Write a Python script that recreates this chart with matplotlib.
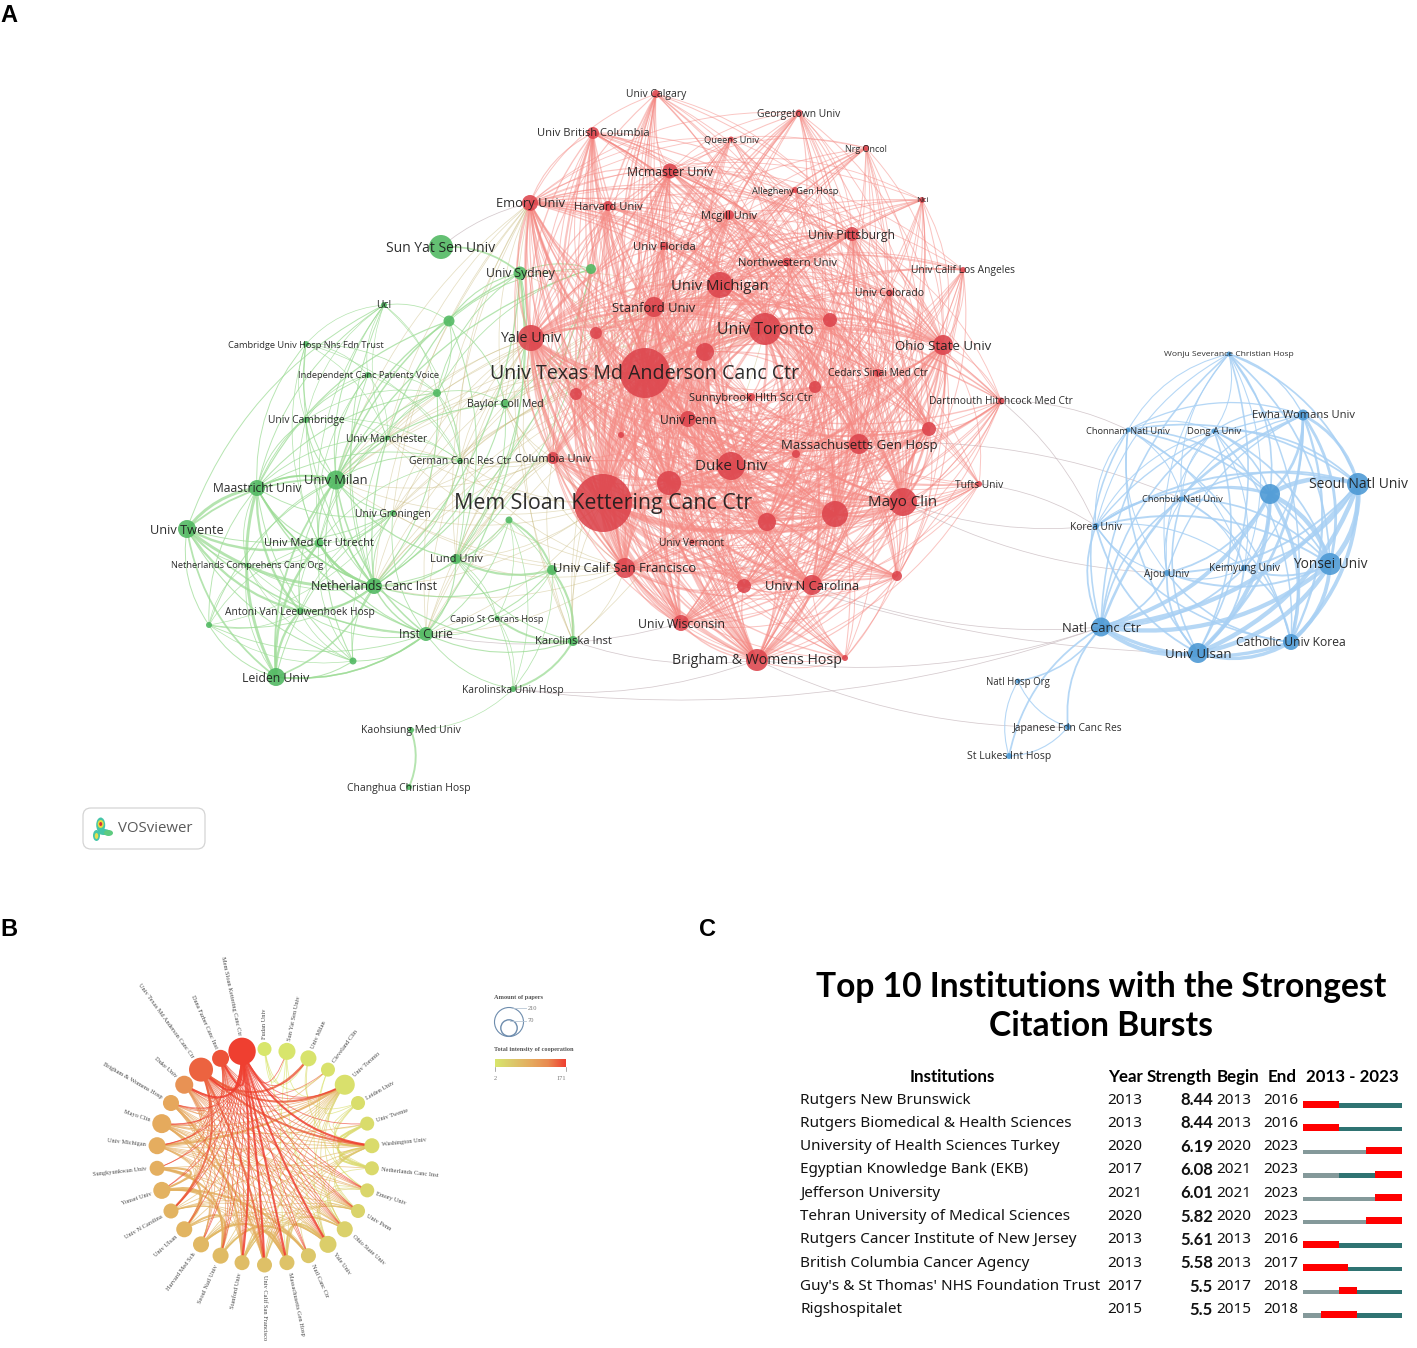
import numpy as np
import matplotlib
matplotlib.use("Agg")
import matplotlib.pyplot as plt
from matplotlib.collections import PathCollection
from matplotlib.colors import LinearSegmentedColormap, Normalize, to_rgba
from matplotlib.patches import Circle, Ellipse, FancyBboxPatch
from matplotlib.path import Path

W, H = 1417, 1348

# ---- panel A, VOSviewer map (node x/y, in image pixels)
red_names = ["Univ Calgary", "Georgetown Univ", "Univ British Columbia", "Queens Univ", "Nrg Oncol",
             "Mcmaster Univ", "Allegheny Gen Hosp", "Emory Univ", "Harvard Univ", "Nci", "Mcgill Univ",
             "Univ Pittsburgh", "Univ Florida", "Northwestern Univ", "Univ Calif Los Angeles", "Univ Michigan",
             "Univ Colorado", "Stanford Univ", "", "Univ Toronto", "Yale Univ", "", "Ohio State Univ", "",
             "Cedars Sinai Med Ctr", "Univ Texas Md Anderson Canc Ctr", "", "Sunnybrook Hlth Sci Ctr",
             "Dartmouth Hitchcock Med Ctr", "", "Univ Penn", "", "", "Massachusetts Gen Hosp", "Columbia Univ",
             "", "Duke Univ", "", "Tufts Univ", "Mayo Clin", "Mem Sloan Kettering Canc Ctr", "", "",
             "Univ Vermont", "Univ Calif San Francisco", "Univ N Carolina", "", "", "Univ Wisconsin",
             "Brigham & Womens Hosp", ""]
red_x = [656, 799, 593, 731, 866, 670, 795, 530, 608, 922, 729, 852, 664, 787, 963, 720, 890, 654, 830, 765, 531,
         596, 943, 705, 878, 645, 815, 751, 1001, 576, 688, 929, 621, 859, 553, 796, 731, 669, 979, 903, 603, 835,
         767, 692, 625, 812, 744, 897, 681, 757, 845]
red_y = [94, 113, 133, 139, 148, 171, 190, 203, 206, 200, 215, 234, 246, 262, 270, 285, 293, 307, 320, 329, 338,
         333, 345, 352, 373, 373, 387, 397, 401, 394, 419, 429, 435, 444, 458, 454, 466, 483, 484, 502, 503, 514,
         522, 542, 568, 585, 586, 576, 623, 660, 658]
red_r = [4, 3.5, 6, 2.5, 3, 7.5, 3, 8, 5, 3, 5, 7, 4, 4.5, 3, 13, 3.5, 10, 7, 16, 13, 6, 10, 9, 4, 25, 6, 4, 3.5,
         6, 8, 7, 3, 10, 6, 4, 14, 12, 3, 14, 29, 13, 9, 2.5, 10, 10, 7, 5, 8, 11, 3]
red_fs = [7.5, 7.4, 8, 6.7, 6.5, 8.8, 6.7, 9.3, 8, 6, 7.9, 8.7, 8.1, 8, 7.4, 10.7, 7.5, 9.4, 6, 11.4, 10.3, 6, 9.5,
          6, 7.4, 14.1, 6, 8, 7.4, 6, 8.6, 6, 6, 9.5, 8, 6, 10.9, 6, 7.4, 10.9, 15.4, 6, 6, 7.3, 9.4, 9.4, 6, 6,
          8.8, 10.2, 6]

green_names = ["Sun Yat Sen Univ", "Univ Sydney", "", "Ucl", "", "Cambridge Univ Hosp Nhs Fdn Trust",
               "Independent Canc Patients Voice", "", "Baylor Coll Med", "Univ Cambridge", "Univ Manchester",
               "German Canc Res Ctr", "Maastricht Univ", "Univ Milan", "Univ Groningen", "", "Univ Twente",
               "Univ Med Ctr Utrecht", "Netherlands Comprehens Canc Org", "Lund Univ", "", "Netherlands Canc Inst",
               "Capio St Gorans Hosp", "Antoni Van Leeuwenhoek Hosp", "", "", "Inst Curie", "Karolinska Inst",
               "Leiden Univ", "Karolinska Univ Hosp", "Kaohsiung Med Univ", "Changhua Christian Hosp"]
green_x = [441, 520, 591, 384, 449, 306, 368, 437, 505, 306, 387, 460, 257, 336, 393, 509, 187, 319, 247, 456, 552,
           374, 497, 300, 209, 353, 426, 573, 276, 513, 411, 409]
green_y = [247, 273, 269, 305, 321, 344, 375, 393, 404, 420, 438, 461, 488, 480, 513, 520, 529, 543, 565, 559, 570,
           586, 618, 611, 625, 661, 634, 641, 677, 689, 730, 787]
green_r = [12, 6.5, 5, 3, 5.5, 3, 3, 4, 4.5, 3, 2.5, 3, 8, 9.5, 3, 3.5, 9, 4.5, 2, 5, 5, 8, 2.5, 3.5, 3, 3.5, 7, 5,
           9, 3, 3, 3]
green_fs = [10, 8.7, 6, 7.5, 6, 6.7, 6.7, 6, 7.6, 7.4, 7.4, 7.4, 8.7, 9.3, 7.5, 6, 9.2, 8, 6.7, 8, 6, 8.8, 6.7, 7.4,
            6, 6, 8.7, 8, 8.8, 7.4, 7.5, 7.5]

blue_names = ["Wonju Severance Christian Hosp", "Ewha Womans Univ", "Chonnam Natl Univ", "Dong A Univ",
              "Seoul Natl Univ", "", "Chonbuk Natl Univ", "Korea Univ", "Yonsei Univ", "Ajou Univ", "Keimyung Univ",
              "Natl Canc Ctr", "Catholic Univ Korea", "Univ Ulsan", "Natl Hosp Org", "Japanese Fdn Canc Res",
              "St Lukes Int Hosp"]
blue_x = [1229, 1303, 1128, 1214, 1358, 1270, 1182, 1096, 1330, 1167, 1244, 1101, 1291, 1198, 1018, 1068, 1009]
blue_y = [354, 415, 430, 431, 484, 494, 499, 526, 564, 573, 568, 627, 642, 653, 681, 727, 756]
blue_r = [2.5, 5.5, 2.5, 2.5, 11, 10, 2.5, 3, 11, 3, 3, 9.5, 8, 10, 2.5, 3, 3]
blue_fs = [6.1, 8, 6.7, 6.8, 10, 6, 6.7, 7.3, 9.9, 7.3, 7.3, 9.3, 8.7, 9.5, 6.9, 7.4, 7.5]

green_groups = [[12, 13, 14, 16, 17, 18, 21, 23, 24, 25, 26, 28],
                [19, 20, 22, 26, 27, 29, 15],
                [3, 5, 6, 7, 9, 10, 11, 13, 21, 12, 17],
                [1, 2, 4, 8, 7, 13, 21, 19]]
green_links = [(30, 31), (29, 30), (3, 4), (0, 1), (4, 12), (3, 16), (1, 26), (15, 21), (20, 21), (27, 21), (28, 26)]
green_strong = [(16, 17), (16, 21), (16, 12), (17, 21), (28, 23), (28, 17), (28, 12), (19, 20), (27, 29), (15, 20),
                (22, 27), (12, 23), (23, 21), (30, 31), (16, 23), (20, 27)]
blue_links = [(14, 15), (15, 16), (11, 15), (11, 16), (14, 16), (11, 14)]
cross_links = [("Sun Yat Sen Univ", "Emory Univ"), ("Karolinska Inst", "Brigham & Womens Hosp"),
               ("Karolinska Univ Hosp", "Brigham & Womens Hosp"), ("Karolinska Univ Hosp", "Natl Canc Ctr"),
               ("Inst Curie", "Univ Wisconsin"), ("Tufts Univ", "Korea Univ"), ("Dartmouth Hitchcock Med Ctr", "Korea Univ"),
               ("Dartmouth Hitchcock Med Ctr", "Chonnam Natl Univ"), ("Mayo Clin", "Korea Univ"),
               ("Mayo Clin", "Ajou Univ"), ("Brigham & Womens Hosp", "Natl Canc Ctr"),
               ("Brigham & Womens Hosp", "Japanese Fdn Canc Res"), ("Univ Ulsan", "Mem Sloan Kettering Canc Ctr"),
               ("Univ N Carolina", "Natl Canc Ctr"), ("Massachusetts Gen Hosp", "Chonbuk Natl Univ")]
cross_left = ["Univ Sydney", "Baylor Coll Med", "German Canc Res Ctr", "Lund Univ", "Univ Milan", "Inst Curie",
              "Netherlands Canc Inst", "Univ Manchester", "Univ Groningen", "Karolinska Inst"]
cross_right = ["Mem Sloan Kettering Canc Ctr", "Univ Texas Md Anderson Canc Ctr", "Yale Univ", "Emory Univ",
               "Stanford Univ", "Univ Calif San Francisco", "Columbia Univ", "Univ Toronto"]

# ---- panel B, circular network, clockwise from the top
circle_names = ["Fudan Univ", "Sun Yat Sen Univ", "Univ Milan", "Cleveland Clin", "Univ Toronto", "Leiden Univ",
                "Univ Twente", "Washington Univ", "Netherlands Canc Inst", "Emory Univ", "Univ Penn", "Ohio State Univ",
                "Yale Univ", "Natl Canc Ctr", "Massachusetts Gen Hosp", "Univ Calif San Francisco", "Stanford Univ",
                "Seoul Natl Univ", "Harvard Med Sch", "Univ Ulsan", "Univ N Carolina", "Yonsei Univ",
                "Sungkyunkwan Univ", "Univ Michigan", "Mayo Clin", "Brigham & Womens Hosp", "Duke Univ",
                "Univ Texas Md Anderson Canc Ctr", "Dana Farber Canc Inst", "Mem Sloan Kettering Canc Ctr"]
circle_papers = [55, 81, 72, 55, 112, 55, 55, 63, 55, 55, 55, 72, 81, 63, 63, 63, 63, 72, 72, 72, 63, 81, 63, 81,
                 101, 72, 91, 161, 81, 210]
circle_intensity = [2, 4, 6, 8, 10, 14, 16, 18, 20, 24, 28, 32, 36, 46, 52, 56, 60, 64, 68, 72, 74, 76, 80, 84, 88,
                    92, 118, 150, 160, 171]
circle_links = {29: [1, 2, 4, 6, 7, 9, 10, 11, 12, 13, 14, 15, 16, 17, 18, 19, 20, 21, 22, 23, 24, 25, 26, 27, 28],
                27: [2, 3, 4, 7, 9, 10, 11, 12, 13, 14, 15, 16, 17, 19, 20, 21, 22, 23, 24, 25, 26, 28],
                28: [4, 7, 9, 10, 11, 12, 13, 14, 15, 16, 17, 18, 20, 23, 24, 25, 26],
                26: [4, 7, 9, 10, 11, 12, 14, 15, 16, 17, 18, 20, 23, 24, 25],
                25: [4, 7, 10, 11, 12, 14, 15, 16, 18, 20, 23, 24],
                24: [4, 6, 7, 9, 10, 11, 12, 14, 15, 16, 18, 20, 23],
                23: [3, 4, 7, 9, 10, 11, 12, 14, 15, 16, 18, 20],
                22: [13, 17, 19, 21, 8, 14], 21: [13, 17, 19, 14, 4], 20: [4, 7, 10, 11, 12, 14, 15, 16],
                19: [13, 17, 12, 4], 18: [4, 7, 10, 11, 12, 14, 15, 16, 17], 17: [13, 15, 12, 4],
                16: [4, 7, 10, 11, 12, 14, 15], 15: [4, 7, 10, 11, 12, 14], 14: [4, 7, 10, 11, 12],
                13: [15, 12], 12: [4, 7, 9, 10, 11], 11: [4, 7, 9, 10], 10: [4, 7, 9], 8: [5, 6, 7, 2, 10],
                7: [4, 5, 6], 6: [5], 5: [2, 4, 9], 3: [0, 9, 11], 1: [0, 4, 12, 14], 0: [2, 11]}
circle_strong = [(22, 21), (21, 19), (22, 19), (19, 17), (21, 17), (22, 17), (21, 13), (17, 13), (29, 12), (29, 14),
                 (29, 16), (29, 15), (29, 7), (29, 28), (29, 27), (29, 26), (27, 15), (27, 2), (27, 4), (27, 7),
                 (27, 20), (23, 4), (28, 27), (26, 28), (25, 28), (25, 16), (24, 15), (18, 14), (16, 14), (14, 12),
                 (8, 7), (8, 6), (7, 6)]

# ---- panel C, citation bursts
burst_names = ["Rutgers New Brunswick", "Rutgers Biomedical & Health Sciences", "University of Health Sciences Turkey",
               "Egyptian Knowledge Bank (EKB)", "Jefferson University", "Tehran University of Medical Sciences",
               "Rutgers Cancer Institute of New Jersey", "British Columbia Cancer Agency",
               "Guy's & St Thomas' NHS Foundation Trust", "Rigshospitalet"]
burst_year = [2013, 2013, 2020, 2017, 2021, 2020, 2013, 2013, 2017, 2015]
burst_strength = ["8.44", "8.44", "6.19", "6.08", "6.01", "5.82", "5.61", "5.58", "5.5", "5.5"]
burst_begin = [2013, 2013, 2020, 2021, 2021, 2020, 2013, 2013, 2017, 2015]
burst_end = [2016, 2016, 2023, 2023, 2023, 2023, 2016, 2017, 2018, 2018]
first_year, last_year = 2013, 2023

plt.rcParams['font.family'] = ['Open Sans', 'DejaVu Sans']
fig = plt.figure(figsize=(W / 100, H / 100), dpi=100, facecolor='white')
ax = fig.add_axes([0, 0, 1, 1])
ax.set_xlim(0, W)
ax.set_ylim(H, 0)
ax.axis('off')


def px_axes(x0, y0, x1, y1):
    # small extra axes placed by image pixels
    a = fig.add_axes([x0 / W, 1 - y1 / H, (x1 - x0) / W, (y1 - y0) / H])
    a.axis('off')
    return a


def arc(p0, p1, center, bend):
    # curved link, bulging away from the cluster center
    p0, p1 = np.asarray(p0, float), np.asarray(p1, float)
    mid = (p0 + p1) / 2
    d = p1 - p0
    n = np.array([-d[1], d[0]])
    if np.dot(n, mid - center) < 0:
        n = -n
    return Path([p0, mid + n * bend, p1], [Path.MOVETO, Path.CURVE3, Path.CURVE3])


def add_links(paths, colors, widths, zorder):
    pc = PathCollection(paths, facecolors='none', edgecolors=colors, linewidths=widths, zorder=zorder)
    ax.add_collection(pc)


def draw_cluster(xs, ys, rs, pairs, color, alpha, k, base, bend=0.2, strong=()):
    center = np.array([np.mean(xs), np.mean(ys)])
    paths, widths = [], []
    for i, j in pairs:
        paths.append(arc((xs[i], ys[i]), (xs[j], ys[j]), center, bend))
        w = base + rs[i] * rs[j] / k
        if (i, j) in strong or (j, i) in strong:
            w += 0.9
        widths.append(w)
    add_links(paths, [to_rgba(color, alpha)] * len(paths), widths, 1)


def clique(group):
    return [(a, b) for n, a in enumerate(group) for b in group[n + 1:]]


all_pos = {}
for ns, xs, ys in [(red_names, red_x, red_y), (green_names, green_x, green_y), (blue_names, blue_x, blue_y)]:
    for n, x, y in zip(ns, xs, ys):
        if n:
            all_pos[n] = (x, y)

center_a = np.array([700, 420])
left_pairs = [(a, b) for a in cross_left for b in cross_right]
add_links([arc(all_pos[a], all_pos[b], center_a, 0.16) for a, b in left_pairs],
          [(0.78, 0.72, 0.48, 0.45)] * len(left_pairs), [0.55] * len(left_pairs), 1)
add_links([arc(all_pos[a], all_pos[b], center_a, 0.12) for a, b in cross_links],
          [(0.78, 0.72, 0.74, 0.75)] * len(cross_links), [0.55] * len(cross_links), 1)

green_pairs = set()
for g in green_groups:
    green_pairs.update(clique(g))
green_pairs.update(green_links)
draw_cluster(green_x, green_y, green_r, sorted(green_pairs), '#9ddc96', 0.75, 90, 0.4, strong=green_strong)

# red cluster: the small ones only tie to bigger nodes
red_pairs = [(i, j) for i in range(len(red_x)) for j in range(i + 1, len(red_x)) if red_r[i] + red_r[j] >= 10.5]
draw_cluster(red_x, red_y, red_r, red_pairs, '#f58a84', 0.5, 170, 0.5)

blue_pairs = clique(list(range(14))) + blue_links
draw_cluster(blue_x, blue_y, blue_r, blue_pairs, '#a8d0f4', 0.85, 42, 0.6, bend=0.22)

for xs, ys, rs, ns, fs, col in [(red_x, red_y, red_r, red_names, red_fs, '#dc444c'),
                                (green_x, green_y, green_r, green_names, green_fs, '#4fb860'),
                                (blue_x, blue_y, blue_r, blue_names, blue_fs, '#4a98d4')]:
    ax.scatter(xs, ys, s=(2 * np.array(rs) * 0.72) ** 2, color=col, alpha=0.88, linewidths=0, zorder=3)
    for n, x, y, f in zip(ns, xs, ys, fs):
        if n:
            ax.text(x, y + 1, n, fontsize=f, color='#1c1c1c', alpha=0.92, ha='center', va='center', zorder=4)

# logo box
ax.add_patch(FancyBboxPatch((83, 808), 122, 41, boxstyle='round,pad=0,rounding_size=8', fc='white', ec='#d4d4d4',
                            lw=0.9, zorder=2))
for (x, y, w, h, c) in [(100.7, 825, 9, 15, '#46c6a8'), (96.5, 835.5, 7, 11, '#46c6a8'), (104, 832, 12, 6, '#46c6a8'),
                        (108.5, 833, 9, 6, '#5ecb80'), (100.7, 824, 6, 8, '#e6dc3f'), (96.5, 836, 3.5, 6, '#e6e04f'),
                        (100.7, 824, 3, 4, '#d9333a')]:
    ax.add_patch(Ellipse((x, y), w, h, fc=c, ec='none', zorder=3))
ax.text(155, 829, 'VOSviewer', fontsize=10.8, color='#5a5a5a', ha='center', va='center', zorder=3)

# panel letters
for letter, x, y in [('A', 0, 15), ('B', 0, 930), ('C', 699, 930)]:
    ax.text(x, y, letter, fontsize=17, fontweight='bold', family='Liberation Sans', color='black', ha='left', va='center')

# ---- panel B
cx, cy, big_r = 264.5, 1157, 108
cmap = LinearSegmentedColormap.from_list('burst', ['#d8e66c', '#dcc86a', '#e5ab5e', '#e98a50', '#ef3f30'])
norm = Normalize(2, 171)
theta = np.radians(np.arange(len(circle_names)) * 360 / len(circle_names))
nx = cx + big_r * np.sin(theta)
ny = cy - big_r * np.cos(theta)
nr = 13.7 * np.sqrt(np.array(circle_papers) / 210)

paths, cols, widths = [], [], []
for src in sorted(circle_links, key=lambda s: circle_intensity[s]):
    for dst in circle_links[src]:
        mid = np.array([(nx[src] + nx[dst]) / 2, (ny[src] + ny[dst]) / 2])
        ctrl = mid + (np.array([cx, cy]) - mid) * 0.6
        paths.append(Path([(nx[src], ny[src]), ctrl, (nx[dst], ny[dst])], [Path.MOVETO, Path.CURVE3, Path.CURVE3]))
        strong = (src, dst) in circle_strong
        cols.append(to_rgba(cmap(norm(circle_intensity[src])), 0.85 if strong else 0.65))
        widths.append(1.5 if strong else 0.6)
add_links(paths, cols, widths, 1)
ax.scatter(nx, ny, s=(2 * nr * 0.72) ** 2, color=cmap(norm(circle_intensity)), linewidths=0, zorder=3)
for i, n in enumerate(circle_names):
    deg = np.degrees(theta[i])
    rr = big_r + nr[i] + 2.5
    tx, ty = cx + rr * np.sin(theta[i]), cy - rr * np.cos(theta[i])
    right = deg <= 180
    ax.text(tx, ty, n, family=['Liberation Serif'], fontsize=4.6, color='#4a4a4a',
            rotation=(90 - deg) if right else (270 - deg),
            rotation_mode='anchor', ha='left' if right else 'right', va='center', zorder=4)

# legend of panel B
ax.text(494, 998, 'Amount of papers', family='Liberation Serif', fontsize=4.6, fontweight='bold', color='#555555', va='center')
ax.add_patch(Circle((509, 1022), 14.5, fc='none', ec='#6d8cad', lw=0.8))
ax.add_patch(Circle((509, 1028), 8.2, fc='none', ec='#6d8cad', lw=1.0))
ax.plot([513, 526], [1007.5, 1007.5], color='#b8c6d4', lw=0.6)
ax.plot([510, 526], [1021, 1021], color='#b8c6d4', lw=0.6)
ax.text(527.5, 1009, '210', family='Liberation Serif', fontsize=4.6, color='#777777', va='center')
ax.text(527.5, 1021, '70', family='Liberation Serif', fontsize=4.6, color='#777777', va='center')
ax.text(494, 1049, 'Total intensity of cooperation', family='Liberation Serif', fontsize=4.6, fontweight='bold', color='#555555', va='center')
cax = px_axes(495, 1059, 566, 1067)
cax.imshow(np.linspace(0, 1, 200).reshape(1, -1), cmap=cmap, aspect='auto')
ax.plot([495, 495], [1067, 1071], color='#888888', lw=0.5)
ax.plot([566, 566], [1067, 1071], color='#888888', lw=0.5)
ax.text(495, 1078, '2', family='Liberation Serif', fontsize=4.6, color='#777777', ha='center', va='center')
ax.text(561, 1078, '171', family='Liberation Serif', fontsize=4.6, color='#777777', ha='center', va='center')

# ---- panel C
ax.text(1101, 987, 'Top 10 Institutions with the Strongest', family='Lato', fontweight='bold', fontsize=24.2,
        ha='center', va='center', color='black')
ax.text(1101, 1026, 'Citation Bursts', family='Lato', fontweight='bold', fontsize=24.2, ha='center', va='center', color='black')

hdr = dict(family='Lato', fontweight='bold', fontsize=12.2, va='center', color='black')
ax.text(952, 1077, 'Institutions', ha='center', **hdr)
ax.text(1108, 1077, 'Year', ha='left', **hdr)
ax.text(1147, 1077, 'Strength', ha='left', **hdr)
ax.text(1217, 1077, 'Begin', ha='left', **hdr)
ax.text(1268, 1077, 'End', ha='left', **hdr)
ax.text(1352, 1077, '%d - %d' % (first_year, last_year), ha='center', **hdr)

row0, row_h = 1100, 23.33
bar_ax = px_axes(1303, 1090, 1402, 1320)
bar_ax.set_xlim(first_year, last_year + 1)
bar_ax.set_ylim((1320 - 1107.7) / row_h, (1090 - 1107.7) / row_h)
h_thin, h_red = 4.5 / row_h, 7 / row_h
for i, name in enumerate(burst_names):
    y = row0 + i * row_h
    ax.text(800, y, name, family='Noto Sans', fontsize=11, color='#111111', va='center')
    ax.text(1107, y, str(burst_year[i]), family='Noto Sans', fontsize=11, color='#111111', va='center')
    ax.text(1213, y, burst_strength[i], family='Lato', fontsize=12, fontweight='bold', color='#111111', va='center', ha='right')
    ax.text(1216, y, str(burst_begin[i]), family='Noto Sans', fontsize=11, color='#111111', va='center')
    ax.text(1263, y, str(burst_end[i]), family='Noto Sans', fontsize=11, color='#111111', va='center')
    # bars: grey before the first year, teal after, red for the burst
    bar_ax.barh(i, burst_year[i] - first_year, left=first_year, height=-h_thin, align='edge', color='#84999a')
    bar_ax.barh(i, last_year + 1 - burst_year[i], left=burst_year[i], height=-h_thin, align='edge', color='#2f7372')
    bar_ax.barh(i, burst_end[i] + 1 - burst_begin[i], left=burst_begin[i], height=-h_red, align='edge', color='#ff0000')

fig.savefig('out.png', dpi=100)
